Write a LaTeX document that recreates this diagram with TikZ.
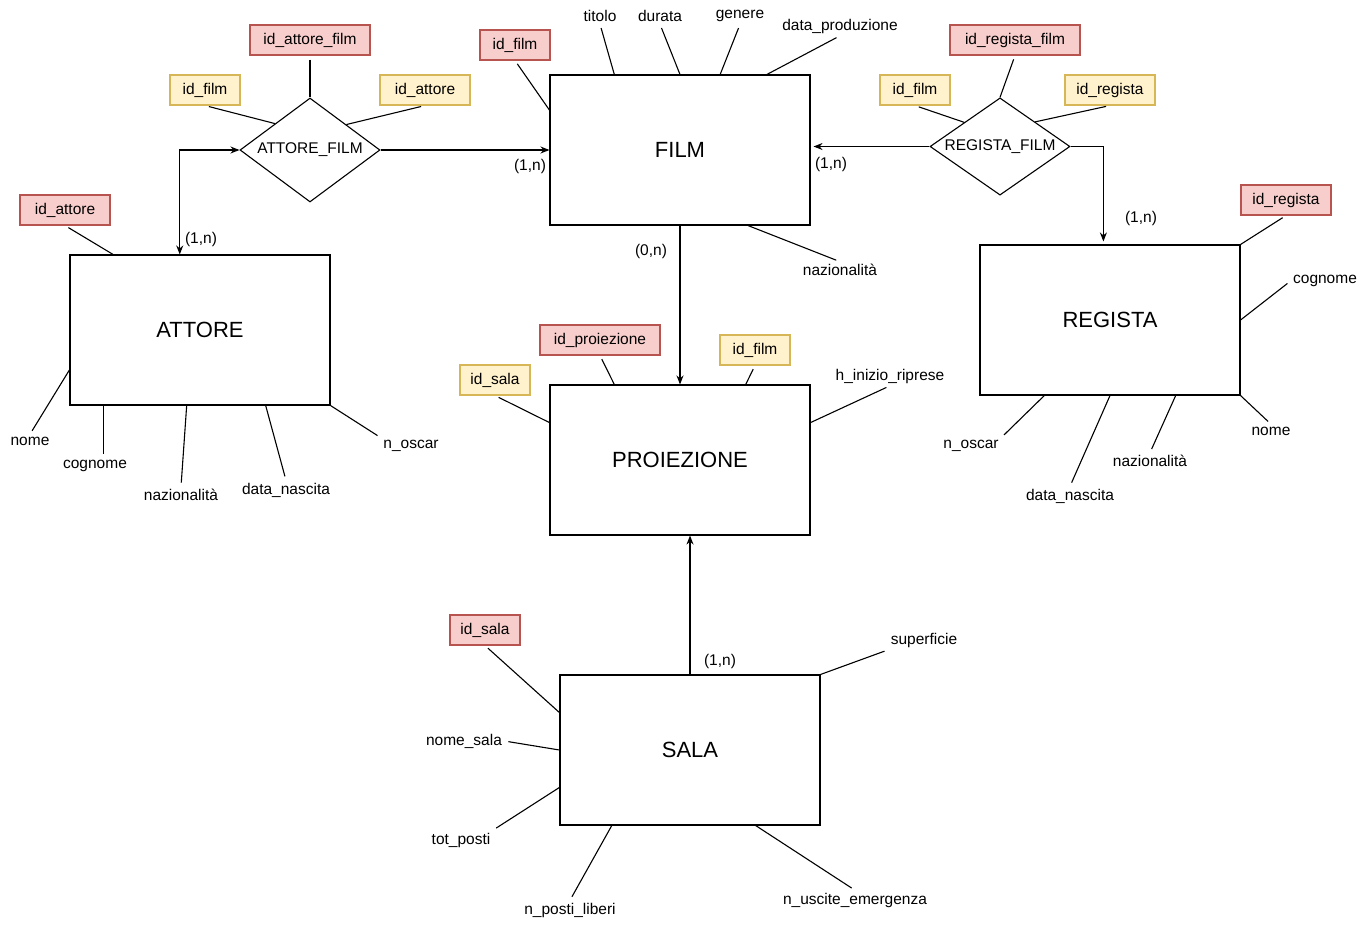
\documentclass[tikz,border=0pt]{standalone}
\usepackage{fontspec}
\setmainfont{Liberation Sans}
\usetikzlibrary{arrows.meta}
\usetikzlibrary{shapes.geometric}

\definecolor{pkfill}{HTML}{F8CECC}
\definecolor{pkline}{HTML}{B85450}
\definecolor{fkfill}{HTML}{FFF2CC}
\definecolor{fkline}{HTML}{D6B656}

\begin{document}
\begin{tikzpicture}[x=1pt, y=-1pt, line width=1.1pt, >={Stealth[length=9pt,width=7pt]},
  entity/.style={draw, minimum width=260pt, minimum height=150pt, font=\fontsize{22}{26}\selectfont},
  rel/.style={draw, diamond, aspect=1.33, inner sep=0pt, minimum width=140pt, minimum height=104pt, font=\fontsize{15.5}{18}\selectfont},
  pk/.style={draw=pkline, fill=pkfill, minimum height=30pt, inner xsep=0pt, font=\fontsize{15.5}{18}\selectfont},
  fk/.style={draw=fkline, fill=fkfill, minimum height=30pt, inner xsep=0pt, font=\fontsize{15.5}{18}\selectfont},
  attr/.style={inner sep=2pt, font=\fontsize{15.5}{18}\selectfont},
  card/.style={inner sep=1pt, font=\fontsize{15.5}{18}\selectfont}]

\useasboundingbox (0,0) rectangle (1371,927);
\fill[white] (0,0) rectangle (1371,927);

% entities and relations
\node[entity] (film) at (680,150) {FILM};
\node[entity] (attore) at (200,330) {ATTORE};
\node[entity] (regista) at (1110,320) {REGISTA};
\node[entity] (proiezione) at (680,460) {PROIEZIONE};
\node[entity] (sala) at (690,750) {SALA};
\node[rel] (attfilm) at (310,150) {ATTORE\_FILM};
\node[rel, minimum height=97pt] (regfilm) at (1000,146.5) {REGISTA\_FILM};

% keys
\foreach \name/\pos/\w/\txt in {idattorefilm/{310,40}/120/id\_attore\_film, idfilmF/{515,45}/70/id\_film,
  idattoreP/{65,210}/90/id\_attore, idregistafilm/{1015,40}/130/id\_regista\_film, idregistaP/{1286,200}/90/id\_regista,
  idproiezione/{600,340}/120/id\_proiezione, idsalaP/{485,630}/70/id\_sala}
  \node[pk, minimum width=\w pt] (\name) at (\pos) {\txt};
\foreach \name/\pos/\w/\txt in {idfilmA/{205,90}/70/id\_film, idattoreA/{425,90}/90/id\_attore,
  idfilmR/{915,90}/70/id\_film, idregistaR/{1110,90}/90/id\_regista,
  idsalaF/{495,380}/70/id\_sala, idfilmP/{755,350}/70/id\_film}
  \node[fk, minimum width=\w pt] (\name) at (\pos) {\txt};

% plain attributes
\foreach \name/\pos/\txt in {titolo/{600,16}/titolo, durata/{660,16}/durata, genere/{740,16}/genere,
  dataprod/{840,26}/data\_produzione, nazF/{840,270}/nazionalità,
  nomeA/{30,441}/nome, cognomeA/{95,466}/cognome, nazA/{181,495}/nazionalità,
  datanascA/{286,490}/data\_nascita, noscarA/{411,446}/n\_oscar,
  cognomeR/{1325,281}/cognome, nomeR/{1271,431}/nome, nazR/{1150,461}/nazionalità,
  datanascR/{1070,496}/data\_nascita, noscarR/{971,446}/n\_oscar,
  hinizio/{890,376}/h\_inizio\_riprese,
  nomesala/{464,741}/nome\_sala, totposti/{461,840}/tot\_posti, npostiliberi/{570,910}/n\_posti\_liberi,
  nuscite/{855,900}/n\_uscite\_emergenza, superficie/{924,640}/superficie}
  \node[attr] (\name) at (\pos) {\txt};

% attribute lines
\foreach \a/\b in {idattorefilm.south/attfilm.north, idfilmA.south/attfilm.143, idattoreA.south/attfilm.35,
  idfilmF.south/film.163, idattoreP.south/attore.139,
  titolo.south/film.131, durata.south/film.90, genere.south/film.62, dataprod.south/film.41, nazF.north/film.-48,
  idregistafilm.south/regfilm.north, idfilmR.south/regfilm.146, idregistaR.south/regfilm.35,
  idregistaP.south/regista.north east, cognomeR.west/regista.east, nomeR.north/regista.south east,
  nazR.north/regista.311, datanascR.north/regista.270, noscarR.north east/regista.229,
  nomeA.north/attore.197, cognomeA.north -| attore.218/attore.218, nazA.north/attore.260,
  datanascA.north/attore.311, noscarA.north west/attore.south east,
  idsalaF.south/proiezione.164, idproiezione.south/proiezione.131, idfilmP.south/proiezione.49, hinizio.south/proiezione.16,
  idsalaP.south/sala.164, nomesala.east/sala.west, totposti.north east/sala.196,
  npostiliberi.north/sala.224, nuscite.north/sala.311, superficie.south west/sala.north east}
  \draw[shorten <=4pt] (\a) -- (\b);

% relationships
\draw[->] (attfilm.east) -- (film.west);
\draw[<->] (attfilm.west) -| (attore.105);
\draw[->, shorten >=3pt] (regfilm.west) -- (regfilm.west -| film.east);
\draw[->, shorten >=3pt] (regfilm.east) -| (regista.95);
\draw[->] (film.south) -- (proiezione.north);
\draw[->] (sala.north) -- (sala.north |- proiezione.south);

% cardinalities
\node[card] (cardfa) at (530,166) {(1,n)};
\node[card] (cardaa) at (201,239) {(1,n)};
\node[card] (cardfr) at (831,164) {(1,n)};
\node[card] (cardrr) at (1141,218) {(1,n)};
\node[card] (cardfp) at (651,251) {(0,n)};
\node[card] (cardsp) at (720,661) {(1,n)};

\end{tikzpicture}
\end{document}
